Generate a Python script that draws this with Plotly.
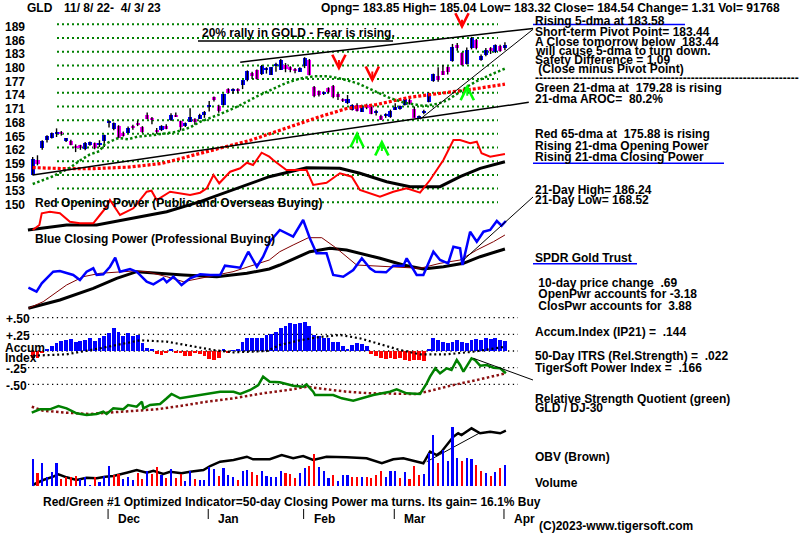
import plotly.graph_objects as go

W, H = 800, 536
X0_PX, DX_PX = 32.7, 4.77          # pixel of day 0 and pixel step per trading day

# ---------------- DATA ----------------
OPEN = [155.9,159.2,161.8,163.6,164.0,165.0,165.4,163.6,163.4,162.4,162.4,161.6,162.6,162.9,162.6,163.4,
        167.4,166.0,166.7,165.2,165.2,166.5,167.4,166.5,169.1,168.5,165.8,165.8,166.7,168.0,169.1,167.8,166.7,167.6,168.2,168.3,169.2,
        170.9,173.0,171.0,171.4,174.8,174.5,174.8,175.8,176.7,178.3,179.0,178.1,179.1,177.9,179.8,179.0,180.1,179.5,179.2,178.6,
        179.8,181.1,175.2,174.3,173.8,175.0,175.5,173.8,172.6,171.7,170.3,171.4,169.8,171.4,171.0,169.6,168.8,168.8,168.6,
        170.4,170.6,171.4,172.5,170.5,168.6,169.5,171.9,176.5,177.6,178.8,179.6,180.9,184.4,182.7,180.3,183.7,185.6,181.2,182.2,183.7,182.9,184.2,
        183.85]
HIGH = [159.9,160.3,163.6,164.7,165.3,166.2,165.6,164.1,163.7,162.7,162.6,163.2,163.3,163.1,163.6,164.8,
        168.0,167.5,166.9,165.5,166.6,167.0,167.9,166.7,169.7,168.7,166.3,166.9,167.1,169.5,169.7,167.9,167.5,170.6,168.4,169.4,170.0,
        172.2,173.2,171.4,173.8,175.0,175.0,175.0,176.7,178.9,178.6,179.1,180.1,179.6,179.6,180.6,181.4,180.5,179.8,179.4,179.6,
        181.8,181.4,175.5,174.5,174.3,175.2,175.7,173.9,172.8,173.5,171.5,171.7,171.4,171.6,171.4,170.3,169.2,169.5,170.3,
        171.7,171.2,172.9,172.7,171.0,169.0,170.3,174.1,178.2,179.6,180.1,179.8,184.7,184.9,182.9,183.9,186.24,185.8,182.4,183.8,184.0,184.6,184.5,
        185.04]
LOW = [155.9,158.1,161.5,163.1,164.0,164.3,164.6,163.2,162.5,161.0,161.5,161.4,162.4,161.6,162.1,162.1,
       166.4,165.8,164.1,164.4,165.2,165.9,166.7,165.2,168.2,167.1,165.0,165.6,166.0,167.8,168.7,165.7,166.5,167.6,167.0,168.3,168.5,
       169.9,172.1,169.6,171.2,173.9,173.8,174.0,174.8,176.5,177.0,176.9,177.9,178.2,177.9,178.6,179.0,178.5,178.5,178.3,178.6,
       179.4,177.8,173.0,173.2,173.5,173.9,172.8,172.4,172.0,171.5,170.1,169.9,169.8,170.4,169.3,169.0,168.1,168.5,168.5,
       170.2,170.3,171.2,171.4,168.52,168.6,169.3,171.9,176.4,176.4,177.9,178.0,180.8,183.2,180.0,180.2,183.5,183.5,181.0,182.0,182.5,182.7,183.0,
       183.32]
CLOSE = [159.4,158.3,163.4,164.5,165.1,165.4,164.9,163.8,162.5,161.8,162.1,163.0,163.2,161.8,162.9,164.7,
         167.9,167.3,164.1,164.5,166.3,166.3,166.9,165.3,168.2,168.0,165.3,166.7,166.0,169.1,168.7,166.5,167.3,168.7,167.7,169.2,169.7,
         171.2,172.5,169.9,173.7,173.9,174.8,174.5,176.7,178.8,177.6,177.0,179.9,179.4,179.6,180.4,181.2,179.2,179.2,178.7,179.4,
         181.6,177.9,173.3,173.6,174.1,174.1,173.0,173.0,172.3,172.7,171.4,170.0,170.8,170.6,169.3,169.8,168.1,169.3,169.9,
         170.8,171.0,172.7,171.5,168.4,168.8,170.0,173.9,178.1,176.8,177.9,178.5,184.0,183.7,180.1,183.4,186.0,183.7,182.0,183.4,183.1,184.4,183.2,
         184.54]

# Green 21-dma and red 65-dma (day index, price)
MA21_X = [0,2,4,6,8,10,12,14,15,16,18,20,22,25,28,30,33,35,39,43,47,50,53,56,59,62,65,68,72,75,78,82,85,87,89,91,93,95,97,99]
MA21_Y = [154.0,154.8,155.6,156.6,157.7,159.2,160.5,161.2,162.6,163.2,164.1,163.8,164.4,164.7,165.1,165.4,166.4,167.6,169.2,171.0,
          173.2,174.7,176.1,177.1,177.6,177.6,177.0,176.1,174.3,172.8,171.8,171.1,171.6,172.4,173.8,175.3,176.5,177.5,178.4,179.28]
MA65_X = [0,6,13,20,27,33,39,46,53,60,66,72,79,86,93,99]
MA65_Y = [157.6,157.4,157.4,157.7,158.5,160.1,161.8,163.7,166.2,168.7,170.6,171.4,173.0,173.9,174.9,175.88]

# Trendlines on the price chart (day index, price)
TL_LOW_X, TL_LOW_Y = [0, 104.0], [156.0, 171.9]
TL_UP_X, TL_UP_Y = [43.5, 104.9], [180.7, 188.1]
TL_STEEP_X, TL_STEEP_Y = [81.2, 104.9], [168.2, 187.9]

# Opening power (red) and its MA (black), relative units
OP_X = [0,1.4,1.9,3.6,5.7,7.8,9.9,12.7,14.1,15.5,16.2,18.3,21.1,23.9,24.9,26,28.8,30.9,33,35.1,36.5,37.9,39.1,41.4,43.5,44.9,46.2,48,
        49.6,50.4,53.2,57.4,58.8,61.6,64.4,66.9,68.6,72.8,75.6,78.4,81.2,83.3,86.1,88.2,89.6,91.7,93.1,94.1,95.9,99]
OP_Y = [0,5,16.7,18.3,16.7,8.3,6.7,6.7,15,23.3,30,15,21.7,38.3,39.3,30,38.3,36.7,35,37.3,41.7,55,46.7,58.3,61.7,67.3,65,77.3,
        73.3,70,60,60,45,47.3,56.7,53.3,40,33.3,38.3,41.7,37.3,50,70,90,90,86.7,88.3,76.7,73.3,76]
OPMA_X = [-1,7.1,13.4,21,28.1,35.1,42,49.6,57.4,64.4,68.6,74.2,79.1,85.4,89.6,93.8,99]
OPMA_Y = [0,5,5,11.7,18.3,28.3,40,53.3,62.3,61.7,56.7,48.3,43.3,43.3,53.3,61.7,68.3]

# Closing power (blue), its 21-dma (brown) and slower MA (black)
CP_X = [-0.9,0.8,1.9,4.3,5.7,7.1,8.5,9.9,11.3,12.7,13.4,14.8,16.2,17.3,18.3,20.4,21.8,23.9,25.3,27.4,28.1,29.5,31.2,33,35.1,37.2,39.3,
        40.3,43.5,45.2,47,48.3,49.7,51.8,54.6,56.7,58.1,59.5,61.6,63,65.1,67.2,69,70.7,71.8,74.1,75.6,77.7,78.4,80.5,81.9,84,85.4,87.1,
        88.2,89.6,90.1,91.7,93.1,94.5,95.9,97.3,98.3,99.2]
CP_Y = [22.3,18.3,26.7,38.3,39,36.7,35,30,38.3,41.7,35,35.7,43.3,52.3,38.3,41,38.3,28.3,25.7,31.7,27.7,33.3,25,31.7,35.7,35,35,
        44.3,42.3,58.3,43.3,53.3,68.3,80,73.3,90,71.7,56.7,56.7,35,33.3,40,51.7,41.7,38.3,37.7,44.3,44.3,51.7,35,35,58.3,50,46.7,
        63.3,61.7,45,78.3,68.3,78.3,80,89,84.3,89]
CPMA_X = [-0.9,2.2,7.1,10.6,14.1,21.1,23.9,28.1,31.6,36.5,42,49.6,51.8,54.6,57.8,60.6,63.7,67.9,75.6,81.2,85.4,89.6,93.1,96.6,99]
CPMA_Y = [1.7,8.3,25,33.3,36.7,39,38.3,33.3,28.3,33.3,38.3,50,58.3,65,72.3,72.3,61.7,45,43.3,41.7,46.7,50,60,68.3,75]
CPSLOW_X = [-0.9,5.7,12.7,17.6,21.8,26,31.6,38.6,44.9,49.6,51.8,58.1,62.3,65.8,68.6,72.8,77.7,81.9,86.1,90.3,93.8,99]
CPSLOW_Y = [1.7,10,21.7,31.7,38.3,36.7,35,33.3,36.7,41,45,58.3,61.7,60,56.7,51.7,45,41,43.3,46.7,53.3,61]

# Accumulation index (IP21) per day and its MA
ACCUM = [-0.11,-0.10,-0.03,0.03,0.08,0.12,0.15,0.16,0.18,0.14,0.15,0.17,0.20,0.15,0.20,0.22,0.27,0.35,0.28,0.23,0.27,0.22,0.24,0.12,0.04,0.03,
         -0.04,-0.06,-0.03,0.03,-0.02,-0.03,-0.07,-0.08,-0.03,-0.05,-0.08,-0.12,-0.13,-0.10,0.02,-0.03,0.01,0.03,0.14,0.20,0.19,0.19,
         0.19,0.24,0.25,0.29,0.34,0.37,0.42,0.40,0.42,0.44,0.37,0.24,0.22,0.19,0.19,0.14,0.14,0.07,0.03,0.09,0.12,0.10,0.07,
         -0.05,-0.08,-0.11,-0.12,-0.10,-0.12,-0.11,-0.13,-0.15,-0.14,-0.13,-0.15,0.03,0.19,0.17,0.14,0.12,0.14,0.17,0.14,0.12,
         0.17,0.18,0.17,0.19,0.18,0.19,0.17,0.15]
ACCMA_X = [0.1,7.1,14.1,17.6,22.5,28.1,32.3,37.9,42.1,49.1,51.8,56,60.2,64.4,68.6,72.8,77,81.2,86.8,92.4,99.2]
ACCMA_Y = [-0.07,-0.05,0.04,0.09,0.16,0.14,0.09,0.015,-0.02,0.0,0.09,0.16,0.21,0.24,0.19,0.10,0.015,-0.05,-0.05,-0.01,0.065]
ACC_LEVELS = [0.50, 0.25, 0.0, -0.25, -0.50]
ACC_LABELS = ["+.50", "+.25", "", "-.25", "-.50"]

# Relative strength quotient GLD / DJ-30 (green) and its MA (dark red), relative units
RS_X = [-0.2,1.5,3.6,5.4,7.1,9.2,11.3,13.4,14.8,15.5,16.9,19,20,21.8,22.9,23.2,24.6,26.7,28.1,29.1,30.9,33.7,36.5,39.3,42.1,43.5,45.6,
        47.3,48.3,48.9,49.7,51.8,54.6,56.7,57.4,58.8,59.2,63,64.8,67.2,70,71.4,74.9,76.3,78.4,81.2,82.6,83.3,84.4,85.4,86.8,87.8,
        88.9,89.6,90.3,92,92.7,93.8,95.2,96.6,98,99.2]
RS_Y = [0.73,1.07,1.07,1.4,1.17,0.67,0.5,0.6,0.83,0.6,1.17,1.07,1.5,1.33,1.83,1.17,1.5,1.6,2.17,2.6,2.17,2.4,2.67,2.83,2.83,2.6,3.0,
        3.5,4.33,4.1,3.83,3.77,3.43,3.33,3.57,2.83,2.5,2.5,2.17,1.93,2.27,2.5,2.83,3.07,2.67,2.6,3.67,4.33,5.17,4.67,5.17,5.0,
        6.0,5.5,4.83,6.17,6.0,5.43,5.5,5.23,5.17,4.67]
RSMA_X = [-0.2,2.2,7.1,12,15.5,21.1,26,30.9,36.5,42.1,48.3,54.6,57.4,61.6,65.8,70.7,75.6,80.5,84,88.2,93.1,99.2]
RSMA_Y = [1.33,0.93,0.73,0.6,0.73,0.93,1.07,1.4,1.83,2.17,2.67,3.07,3.33,3.07,2.83,2.67,2.6,2.6,3.0,3.5,4.0,4.67]

# On-balance volume (black) and volume bars (relative units)
OBV_X = [0,0.8,2.2,4.3,5.4,7.1,9.2,11.3,13.4,15.2,16.9,19.7,21.8,23.9,25.3,27.4,28.8,31.2,33,35.8,37.2,39.3,42.1,44.9,46.2,49.7,
         52.2,54.6,56.7,58.8,61.6,65.8,70,73.2,75.6,77.7,80.5,81.9,83.3,84.7,85.7,88.2,89.2,89.9,92,93.8,95.9,98,99.2]
OBV_Y = [5,6.7,10,13.3,15.7,12.7,10,12.3,11.7,13.3,14,17.3,20,17.3,19.3,16,18.3,16.7,18.3,20,24,28.3,30,33.3,30.7,30.7,
         35,31.7,34,30,33.3,32.7,31.7,26.7,30.7,31.7,28.3,26.7,38.3,35,38.3,53.3,56.7,55,61.7,56.7,58.3,56.7,59.3]
OBV_TL_X, OBV_TL_Y = [82.6, 93.8], [28.3, 57.3]
VOLUME = [26.7,12.7,23.3,8.7,14,22.7,6.7,9.3,8.7,10,6.7,8.7,1,8.7,4.3,10,20,11,12,7,9,6,12.7,7.3,15.3,12,18.7,11,8.3,16.7,
          7.7,11.7,5,15.3,7,6,6,18.7,17,10,18.3,10.7,8.7,6,15,16,14,11,15,10,9.3,8.7,15,12.7,11.7,8.3,12.7,17.7,20,32,
          18.7,15.3,8.3,10.7,5.3,11,11,9.3,8.7,8.7,8.7,8.3,11,15,8.7,15,15,8.3,14,7,20,11,11.7,33.3,51,22.7,36,25.3,58.7,28.3,
          25.3,27.7,27.3,21,15.3,13.3,10,14,17.7,21]
VOL_UP = "BRBBBBRRRRBBBRBBBRRBBBRRBRRBRBRRBBRBBBBRBBBRBBRRBBBBBRRRBBRRBBBRBBBRRBRRRRBBBRBRRRBBBRBBBBRBBRRBRBRB"

# Signal arrows (day index, tail price, head price)
ARROWS_DOWN = [(90, 190.3, 187.9), (64.2, 181.5, 178.8), (71.2, 179.0, 176.2)]
ARROWS_UP = [(68.0, 162.6, 165.6), (73.2, 160.9, 163.8), (91.1, 173.0, 175.9)]

PRICE_TICKS = [189, 186, 183, 180, 177, 174, 171, 168, 165, 162, 159, 156, 153, 150]
MONTH_IDX = [16, 37, 57, 76, 99]
MONTH_LABELS = ["Dec", "Jan", "Feb", "Mar", "Apr"]

RIGHT_TEXT = [
    (20.7, "Rising 5-dma at 183.58"),
    (31.7, "Short-term Pivot Point= 183.44"),
    (41.7, "A Close tomorrow below  183.44"),
    (51.0, "will cause 5-dma to turn down."),
    (60.0, "Safety Difference = 1.09"),
    (69.3, " (Close minus Pivot Point)"),
    (88.3, "Green 21-dma at  179.28 is rising"),
    (99.0, "21-dma AROC=  80.2%"),
    (134.0, "Red 65-dma at  175.88 is rising"),
    (145.7, "Rising 21-dma Opening Power"),
    (156.7, "Rising 21-dma Closing Power"),
    (190.0, "21-Day High= 186.24"),
    (200.0, "21-Day Low= 168.52"),
    (258.3, "SPDR Gold Trust"),
    (283.3, " 10-day price change  .69"),
    (294.0, " OpenPwr accounts for -3.18"),
    (305.7, " ClosPwr accounts for  3.88"),
    (331.7, "Accum.Index (IP21) =  .144"),
    (356.0, "50-Day ITRS (Rel.Strength) =  .022"),
    (368.3, "TigerSoft Power Index =  .166"),
    (398.5, "Relative Strength Quotient (green)"),
    (408.3, "GLD / DJ-30"),
    (457.3, "OBV (Brown)"),
    (482.7, "Volume"),
]

# ---------------- helpers ----------------
def px2i(px):
    return (px - X0_PX) / DX_PX

def xp(px):
    return px / W

def yp(py):
    return 1 - py / H

def yrange(va, pa, vb, pb):
    k = (pb - pa) / (va - vb)
    return [va - (H - pa) / k, va + pa / k]

def keep_spaces(s):
    s = s.replace("  ", "\u00a0\u00a0")
    if s.startswith(" "):
        s = "\u00a0" + s[1:]
    return s

FONT = "Liberation Sans, Arial, sans-serif"
N = len(CLOSE)
IDX = list(range(N))

fig = go.Figure()

# ---- candles: wicks then bodies ----
wx, wy = [], []
for i in IDX:
    wx += [i, i, None]
    wy += [LOW[i], HIGH[i], None]
fig.add_trace(go.Scatter(x=wx, y=wy, mode="lines", line=dict(color="black", width=1.4), yaxis="y"))
body_base = [min(OPEN[i], CLOSE[i]) for i in IDX]
body_h = [max(abs(CLOSE[i] - OPEN[i]), 0.4) for i in IDX]
body_col = ["#0000ff" if CLOSE[i] >= OPEN[i] else "#ff00ff" for i in IDX]
fig.add_trace(go.Bar(x=IDX, y=body_h, base=body_base, width=0.85, marker=dict(color=body_col, line=dict(width=0)), yaxis="y"))

# ---- moving averages and trendlines on price ----
fig.add_trace(go.Scatter(x=MA65_X, y=MA65_Y, mode="lines", line=dict(color="#ff0000", width=3.2, dash="3px,2px"), yaxis="y"))
fig.add_trace(go.Scatter(x=MA21_X, y=MA21_Y, mode="lines", line=dict(color="#008000", width=2.5, dash="2.5px,2.3px"), yaxis="y"))
for tx, ty in [(TL_LOW_X, TL_LOW_Y), (TL_UP_X, TL_UP_Y)]:
    fig.add_trace(go.Scatter(x=tx, y=ty, mode="lines", line=dict(color="black", width=1.5), yaxis="y"))
fig.add_trace(go.Scatter(x=TL_STEEP_X, y=TL_STEEP_Y, mode="lines", line=dict(color="black", width=1), yaxis="y"))

# ---- opening power ----
fig.add_trace(go.Scatter(x=OPMA_X, y=OPMA_Y, mode="lines", line=dict(color="black", width=3), yaxis="y2"))
fig.add_trace(go.Scatter(x=OP_X, y=OP_Y, mode="lines", line=dict(color="#ff0000", width=2), yaxis="y2"))

# ---- closing power ----
fig.add_trace(go.Scatter(x=CPSLOW_X, y=CPSLOW_Y, mode="lines", line=dict(color="black", width=3), yaxis="y3"))
fig.add_trace(go.Scatter(x=CPMA_X, y=CPMA_Y, mode="lines", line=dict(color="#800000", width=1), yaxis="y3"))
fig.add_trace(go.Scatter(x=CP_X, y=CP_Y, mode="lines", line=dict(color="#0000ff", width=2.5), yaxis="y3"))
fig.add_trace(go.Scatter(x=[90.3, px2i(533)], y=[50, 113], mode="lines", line=dict(color="black", width=1), yaxis="y3"))

# ---- accumulation index ----
acc_col = ["#0000ff" if v >= 0 else "#ff0000" for v in ACCUM]
fig.add_trace(go.Bar(x=IDX, y=ACCUM, width=0.8, marker=dict(color=acc_col, line=dict(width=0)), yaxis="y4"))
fig.add_trace(go.Scatter(x=ACCMA_X, y=ACCMA_Y, mode="lines", line=dict(color="black", width=2.2, dash="2px,2.8px"), yaxis="y4"))

# ---- relative strength ----
fig.add_trace(go.Scatter(x=RSMA_X, y=RSMA_Y, mode="lines", line=dict(color="#8b1010", width=2.5, dash="2.5px,2.5px"), yaxis="y5"))
fig.add_trace(go.Scatter(x=RS_X, y=RS_Y, mode="lines", line=dict(color="#008000", width=2.5), yaxis="y5"))
fig.add_trace(go.Scatter(x=[92.4, px2i(533)], y=[6.17, 4.0], mode="lines", line=dict(color="black", width=1), yaxis="y5"))

# ---- volume & OBV ----
vol_col = ["#0000ff" if c == "B" else "#ff0000" for c in VOL_UP]
fig.add_trace(go.Bar(x=IDX, y=VOLUME, width=0.45, marker=dict(color=vol_col, line=dict(width=0)), yaxis="y7"))
fig.add_trace(go.Scatter(x=OBV_X, y=OBV_Y, mode="lines", line=dict(color="black", width=2.5), yaxis="y6"))
fig.add_trace(go.Scatter(x=OBV_TL_X, y=OBV_TL_Y, mode="lines", line=dict(color="black", width=1), yaxis="y6"))

# ---------------- layout ----------------
shapes = []
for v in PRICE_TICKS:
    shapes.append(dict(type="line", xref="x", yref="y", x0=px2i(57), x1=px2i(498), y0=v, y1=v, layer="below",
                       line=dict(color="#008000", width=2, dash="2px,3px")))
for v in ACC_LEVELS:
    shapes.append(dict(type="line", xref="x", yref="y4", x0=px2i(28), x1=px2i(518), y0=v, y1=v, layer="below",
                       line=dict(color="black", width=1.3, dash="1.3px,3.5px")))
for m in MONTH_IDX:
    shapes.append(dict(type="line", xref="x", yref="paper", x0=m - 0.2, x1=m - 0.2, y0=yp(509), y1=yp(519),
                       line=dict(color="black", width=1)))
# underlines
for (x0, x1, y, c) in [(198, 393, 41, "black"), (533, 685, 24.5, "#0000ff"), (533, 724, 163.3, "#0000ff"), (533, 637, 263.7, "#0000ff")]:
    shapes.append(dict(type="line", xref="paper", yref="paper", x0=xp(x0), x1=xp(x1), y0=yp(y), y1=yp(y),
                       line=dict(color=c, width=1.5)))

ann = []
def txt(x, y, s, size=12, anchor="left"):
    ann.append(dict(x=xp(x), y=yp(y), xref="paper", yref="paper", text=s, showarrow=False, xanchor=anchor, yanchor="middle",
                    font=dict(family=FONT, size=size, color="black", weight="bold")))

txt(25, 8, "GLD")
txt(62, 8, "11/ 8/ 22-\u00a0\u00a04/ 3/ 23")
txt(319, 8, "Opng= 183.85 High= 185.04 Low= 183.32 Close= 184.54 Change= 1.31 Vol= 91768")
txt(200, 33, "20% rally in GOLD - Fear is rising.")
for y, s in RIGHT_TEXT:
    txt(533, y, keep_spaces(s))
txt(533, 78, "-" * 66)
txt(33, 202.5, "Red Opening Power (Public and Overseas Buying)")
txt(33, 238.5, "Blue Closing Power (Professional Buying)")
txt(3, 348, "Accum")
txt(3, 358, "Index")
txt(41, 502, "Red/Green #1 Optimized Indicator=50-day Closing Power ma turns. Its gain= 16.1% Buy")
txt(537, 526, "(C)2023-www.tigersoft.com")
for m, lab in zip(MONTH_IDX, MONTH_LABELS):
    ann.append(dict(x=m - 0.2, y=yp(518.5), xref="x", yref="paper", text=lab, showarrow=False, xanchor="left",
                    yanchor="middle", xshift=8, font=dict(family=FONT, size=12, color="black", weight="bold")))
for v in PRICE_TICKS:
    ann.append(dict(x=xp(26.5), y=v, xref="paper", yref="y", text=str(v), showarrow=False, xanchor="right",
                    yanchor="middle", yshift=-2.7, font=dict(family=FONT, size=12, color="black", weight="bold")))
for v, lab in zip(ACC_LEVELS, ACC_LABELS):
    if lab:
        ann.append(dict(x=xp(4), y=v, xref="paper", yref="y4", text=lab, showarrow=False, xanchor="left",
                        yanchor="middle", yshift=-1.5, font=dict(family=FONT, size=12, color="black", weight="bold")))
for (i, tail, head) in ARROWS_DOWN:
    ann.append(dict(x=i, y=head, ax=i, ay=tail, xref="x", yref="y", axref="x", ayref="y", text="", showarrow=True,
                    arrowhead=5, arrowsize=1.3, arrowwidth=2, arrowcolor="#ff0000"))
for (i, tail, head) in ARROWS_UP:
    ann.append(dict(x=i, y=head, ax=i, ay=tail, xref="x", yref="y", axref="x", ayref="y", text="", showarrow=True,
                    arrowhead=5, arrowsize=1.3, arrowwidth=2, arrowcolor="#00ff00"))

hidden = dict(visible=False, fixedrange=True)
fig.update_layout(
    width=W, height=H, margin=dict(l=0, r=0, t=0, b=0), paper_bgcolor="white", plot_bgcolor="white",
    showlegend=False, barmode="overlay", bargap=0,
    xaxis=dict(range=[px2i(0), px2i(W)], domain=[0, 1], **hidden),
    yaxis=dict(range=yrange(189, 24.3, 150, 202.3), domain=[0, 1], **hidden),
    yaxis2=dict(range=yrange(0, 230, 100, 130), overlaying="y", **hidden),
    yaxis3=dict(range=yrange(0, 310, 100, 210), overlaying="y", **hidden),
    yaxis4=dict(range=yrange(0, 351, 0.25, 334.3), overlaying="y", **hidden),
    yaxis5=dict(range=yrange(0, 420, 10, 320), overlaying="y", **hidden),
    yaxis6=dict(range=yrange(0, 490, 100, 390), overlaying="y", **hidden),
    yaxis7=dict(range=yrange(0, 486, 100, 386), overlaying="y", **hidden),
    shapes=shapes, annotations=ann,
)
fig.write_html("out.html")
